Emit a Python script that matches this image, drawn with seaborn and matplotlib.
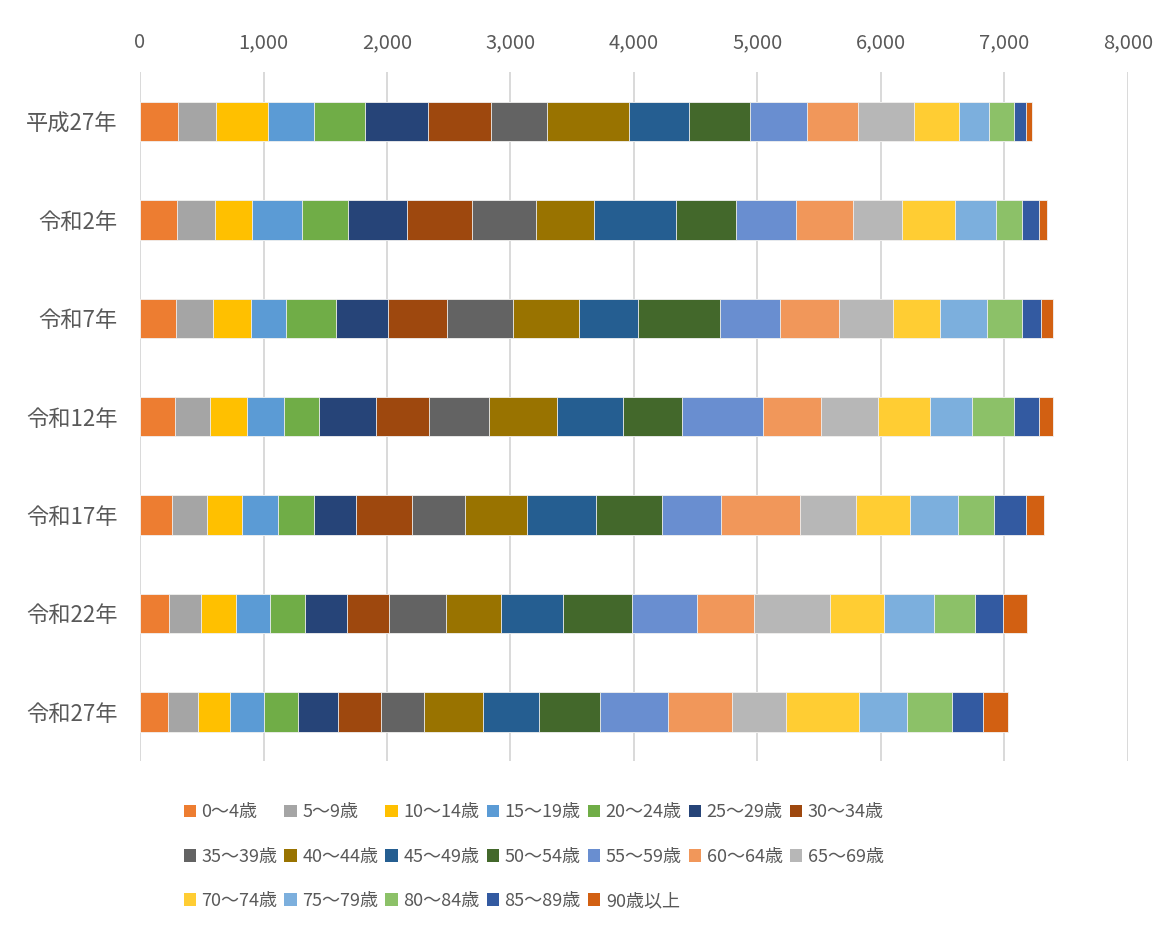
import numpy as np
import pandas as pd
import matplotlib
matplotlib.use('Agg')
import matplotlib.pyplot as plt
from matplotlib.patches import Patch
import seaborn as sns

# =============================================================================
# DATOS
# =============================================================================
anios = ['平成27年', '令和2年', '令和7年', '令和12年', '令和17年', '令和22年', '令和27年']

grupos = ['0～4歳', '5～9歳', '10～14歳', '15～19歳', '20～24歳', '25～29歳', '30～34歳',
          '35～39歳', '40～44歳', '45～49歳', '50～54歳', '55～59歳', '60～64歳', '65～69歳',
          '70～74歳', '75～79歳', '80～84歳', '85～89歳', '90歳以上']

# una lista por año, en el orden de "grupos"
h27 = [310, 305, 418, 372, 415, 510, 510, 455, 664, 485, 494, 467, 407, 453, 364, 246, 202, 99, 46]
r02 = [302, 305, 302, 399, 375, 480, 526, 517, 473, 660, 485, 492, 458, 399, 423, 332, 216, 140, 65]
r07 = [294, 297, 305, 288, 399, 423, 480, 534, 537, 475, 661, 487, 478, 442, 378, 385, 281, 156, 95]
r12 = [286, 283, 299, 295, 288, 461, 429, 485, 548, 539, 475, 655, 469, 461, 424, 342, 335, 208, 115]
r17 = [261, 281, 286, 286, 294, 340, 458, 429, 499, 558, 539, 472, 639, 453, 440, 386, 296, 254, 151]
r22 = [237, 254, 283, 278, 283, 342, 340, 461, 443, 504, 558, 529, 458, 621, 431, 405, 334, 224, 202]
r27 = [227, 242, 259, 275, 275, 324, 348, 348, 477, 453, 494, 550, 518, 445, 590, 389, 364, 250, 203]

colores = ['#ED7D31', '#A5A5A5', '#FFC000', '#5B9BD5', '#70AD47', '#264478', '#9E480E',
           '#636363', '#997300', '#255E91', '#43682B', '#698ED0', '#F1975A', '#B7B7B7',
           '#FFCD33', '#7CAFDD', '#8CC168', '#335AA1', '#D26012']

df = pd.DataFrame([h27, r02, r07, r12, r17, r22, r27], index=anios, columns=grupos)
acumulado = df.cumsum(axis=1)

# =============================================================================
# GRÁFICO
# =============================================================================
sns.set_style('white')
plt.rcParams['font.family'] = ['Noto Sans CJK JP', 'DejaVu Sans']

fig = plt.figure(figsize=(11.7, 9.27), dpi=100)
ax = fig.add_axes([0.1197, 0.179, 0.8443, 0.743])

# barras apiladas: de la suma total hacia la primera franja
for i in range(len(grupos) - 1, -1, -1):
    sns.barplot(x=acumulado[grupos[i]].values, y=anios, orient='h', color=colores[i],
                saturation=1, width=0.4, edgecolor='#F2F2F2', linewidth=0.6, ax=ax, zorder=3)

ax.set_xlim(0, 8000)
ax.set_ylim(len(anios) - 0.5, -0.5)
ax.set_xticks(np.arange(0, 8001, 1000))
ax.xaxis.set_major_formatter(matplotlib.ticker.FuncFormatter(lambda v, p: f'{int(v):,}'))
ax.xaxis.tick_top()
ax.grid(axis='x', color='#D9D9D9', linewidth=1.4, zorder=0)
ax.set_axisbelow(True)
ax.tick_params(axis='x', length=0, pad=14, labelsize=14.5, labelcolor='#595959')
ax.tick_params(axis='y', length=0, pad=16, labelsize=16, labelcolor='#595959')
ax.set_xlabel('')
ax.set_ylabel('')
for s in ax.spines.values():
    s.set_visible(False)

# leyenda en filas (7, 7, 5)
handles = [Patch(facecolor=c, edgecolor='none') for c in colores]
orden = [r * 7 + c for c in range(7) for r in range(3) if r * 7 + c < len(grupos)]
fig.legend([handles[k] for k in orden], [grupos[k] for k in orden], ncol=7,
           loc='lower left', bbox_to_anchor=(0.143, 0.001), frameon=False,
           fontsize=13, handlelength=0.7, handleheight=0.7, handletextpad=0.3,
           columnspacing=0.38, labelspacing=1.45, labelcolor='#595959')

plt.savefig('out.png', dpi=100)
plt.close()
